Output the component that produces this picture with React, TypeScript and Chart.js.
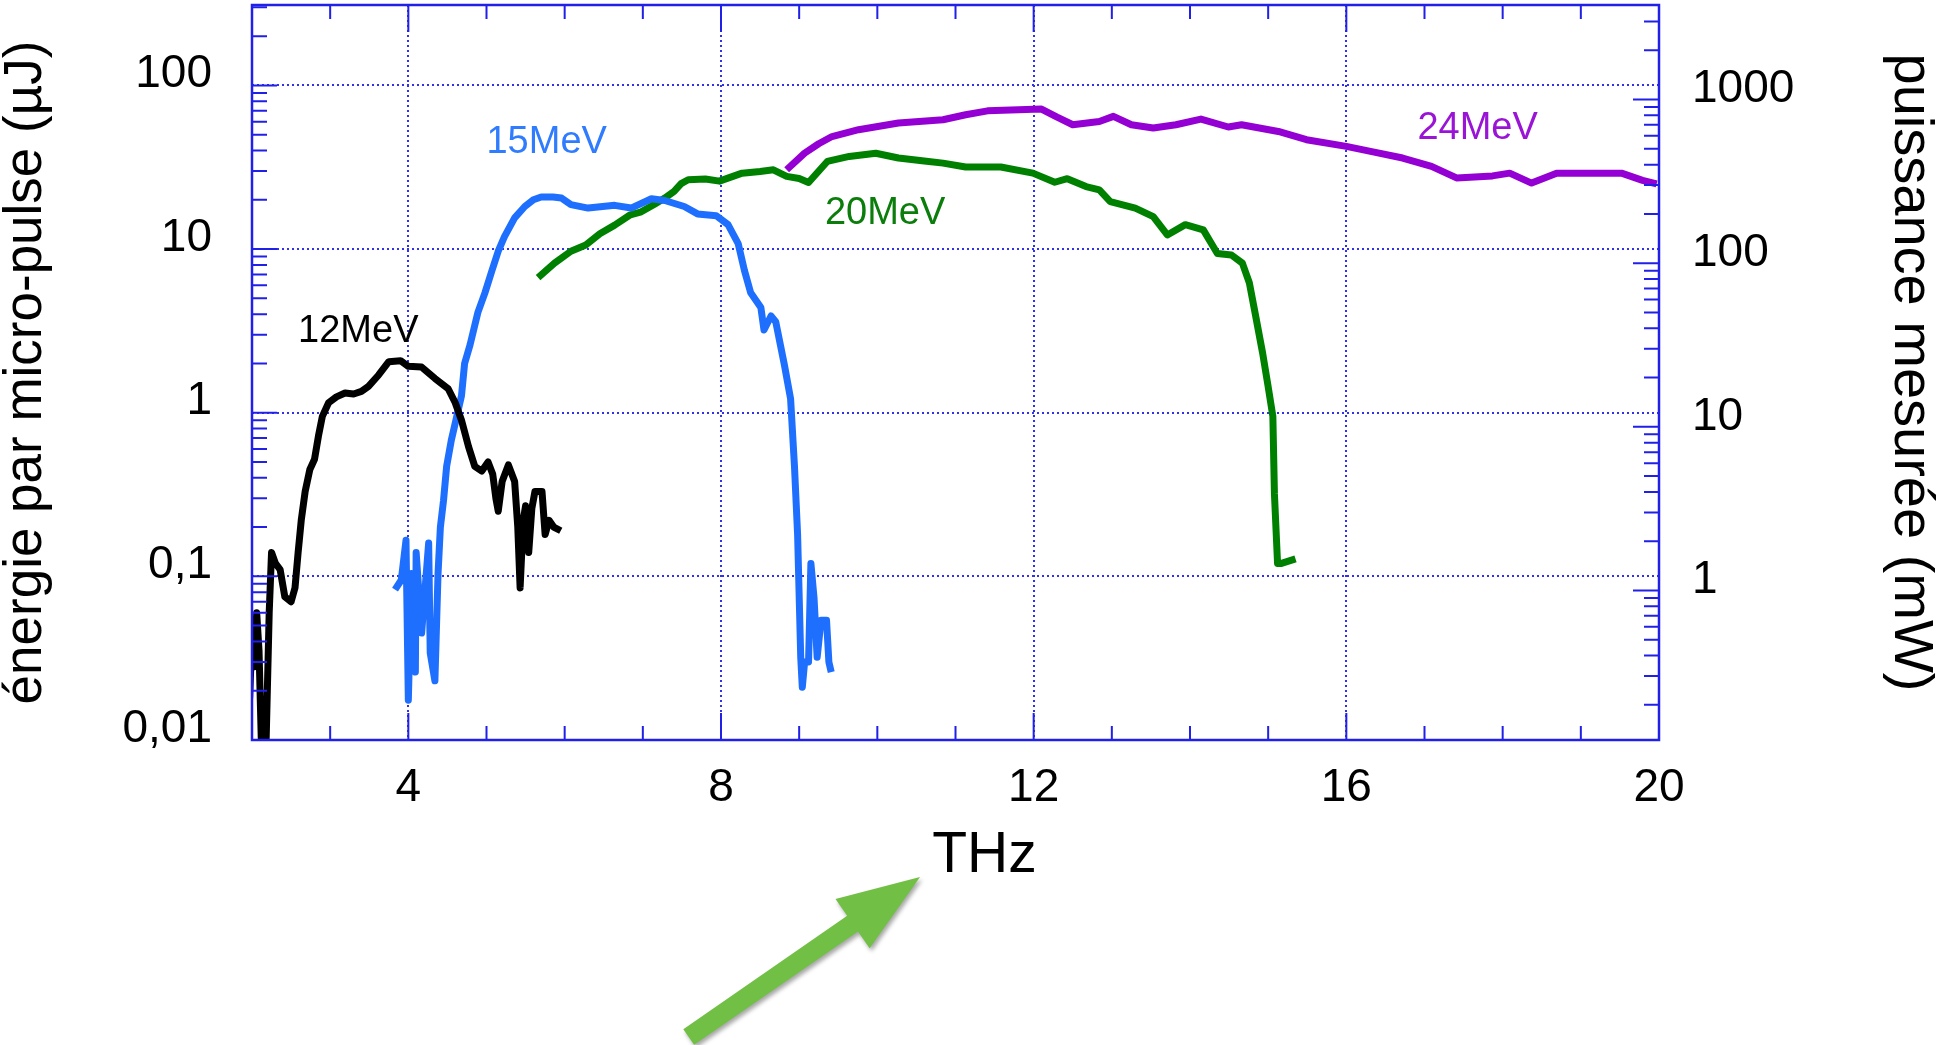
import { useEffect, useRef } from 'react';
import { Chart, registerables } from 'chart.js';

Chart.register(...registerables);

const FONT = '"Liberation Sans", Arial, Helvetica, sans-serif';
const AXIS_BLUE = '#2020e8';
const GRID_BLUE = '#3030ee';

// ---- axis ticks ----
const xTickValues = [4, 8, 12, 16, 20];
const leftTickValues = [0.01, 0.1, 1, 10, 100];
const leftTickLabels = ['0,01', '0,1', '1', '10', '100'];
const rightTickValues = [1, 10, 100, 1000];
const rightTickLabels = ['1', '10', '100', '1000'];

// ---- series (THz, µJ) ----
const mev12Freq = [1.97, 2.0, 2.03, 2.06, 2.09, 2.12, 2.18, 2.22, 2.25, 2.3, 2.36, 2.42, 2.5, 2.55, 2.59, 2.63, 2.68, 2.74, 2.8, 2.85, 2.9, 2.98, 3.08, 3.19, 3.3, 3.4, 3.49, 3.62, 3.75, 3.9, 4.0, 4.17, 4.34, 4.51, 4.6, 4.68, 4.77, 4.85, 4.94, 5.02, 5.08, 5.12, 5.15, 5.2, 5.28, 5.36, 5.4, 5.43, 5.47, 5.5, 5.54, 5.58, 5.62, 5.71, 5.75, 5.8, 5.86, 5.95];
const mev12Energy = [0.018, 0.045, 0.028, 0.06, 0.035, 0.0095, 0.0095, 0.06, 0.14, 0.12, 0.11, 0.075, 0.07, 0.085, 0.14, 0.22, 0.33, 0.45, 0.52, 0.72, 0.95, 1.15, 1.25, 1.32, 1.3, 1.35, 1.45, 1.7, 2.05, 2.08, 1.92, 1.9, 1.62, 1.4, 1.15, 0.9, 0.62, 0.47, 0.44, 0.5, 0.42, 0.3, 0.25, 0.38, 0.48, 0.38, 0.2, 0.085, 0.22, 0.27, 0.14, 0.26, 0.33, 0.33, 0.18, 0.22, 0.2, 0.19];

const mev15Freq = [3.83, 3.91, 3.97, 4.0, 4.04, 4.09, 4.1, 4.17, 4.26, 4.28, 4.34, 4.38, 4.41, 4.45, 4.49, 4.55, 4.62, 4.68, 4.72, 4.79, 4.89, 4.98, 5.07, 5.15, 5.23, 5.36, 5.49, 5.6, 5.7, 5.85, 5.96, 6.08, 6.3, 6.64, 6.85, 7.11, 7.28, 7.53, 7.7, 7.94, 8.09, 8.22, 8.3, 8.38, 8.51, 8.55, 8.64, 8.7, 8.81, 8.89, 8.94, 8.98, 9.02, 9.04, 9.07, 9.12, 9.15, 9.19, 9.23, 9.28, 9.35, 9.38, 9.41];
const mev15Energy = [0.083, 0.095, 0.166, 0.0175, 0.104, 0.026, 0.14, 0.045, 0.16, 0.034, 0.023, 0.104, 0.2, 0.29, 0.47, 0.68, 0.95, 1.27, 2.0, 2.6, 4.1, 5.4, 7.4, 9.7, 11.9, 15.5, 18.2, 20.0, 20.8, 20.8, 20.5, 18.7, 17.8, 18.5, 17.8, 20.3, 19.8, 18.2, 16.4, 16.0, 14.1, 10.8, 7.4, 5.4, 4.4, 3.2, 3.9, 3.6, 1.97, 1.22, 0.47, 0.18, 0.032, 0.021, 0.03, 0.03, 0.12, 0.074, 0.032, 0.054, 0.054, 0.03, 0.026];

const mev20Freq = [5.66, 5.87, 6.08, 6.27, 6.45, 6.64, 6.84, 6.98, 7.15, 7.28, 7.4, 7.49, 7.58, 7.8, 7.98, 8.27, 8.5, 8.67, 8.84, 9.0, 9.12, 9.36, 9.64, 9.98, 10.27, 10.6, 10.84, 11.13, 11.58, 11.99, 12.27, 12.43, 12.67, 12.84, 12.98, 13.3, 13.53, 13.71, 13.94, 14.17, 14.35, 14.53, 14.67, 14.76, 14.84, 14.93, 15.0, 15.06, 15.08, 15.12, 15.17, 15.35];
const mev20Energy = [6.7, 8.2, 9.7, 10.6, 12.4, 14.0, 16.2, 16.9, 18.8, 20.5, 22.5, 25.1, 26.5, 26.8, 26.0, 29.1, 29.8, 30.5, 27.8, 27.0, 25.5, 34.3, 36.8, 38.5, 36.0, 34.5, 33.5, 31.7, 31.7, 29.1, 25.6, 26.9, 24.1, 23.0, 19.5, 17.8, 15.8, 12.2, 14.1, 13.1, 9.4, 9.2, 8.2, 6.2, 3.9, 2.3, 1.44, 0.95, 0.32, 0.12, 0.12, 0.128];

const mev24Freq = [8.84, 9.07, 9.25, 9.42, 9.76, 10.27, 10.84, 11.13, 11.41, 12.1, 12.3, 12.5, 12.84, 13.02, 13.25, 13.53, 13.82, 14.14, 14.49, 14.66, 15.13, 15.49, 16.0, 16.31, 16.72, 17.09, 17.41, 17.87, 18.09, 18.37, 18.69, 19.52, 19.79, 19.97];
const mev24Energy = [30.5, 38.6, 44.0, 48.7, 53.6, 58.9, 61.7, 66.2, 69.9, 71.7, 64.0, 57.5, 60.2, 64.7, 57.5, 54.9, 57.5, 62.3, 55.7, 57.5, 52.3, 46.6, 42.4, 39.5, 36.0, 32.0, 27.2, 28.0, 29.1, 25.3, 29.1, 29.1, 26.3, 25.0];

const seriesNames = ['12MeV', '15MeV', '20MeV', '24MeV'];
const seriesColors = ['#000000', '#1f6fff', '#008000', '#9400d3'];
const labelColors = ['#000000', '#2f7cff', '#0a7d0a', '#9a14d6'];
const labelFreq = [3.36, 5.77, 10.1, 17.68];
const labelEnergy = [3.12, 44.6, 16.4, 54.3];

// x-axis title, placed under the axis (THz position, px below the plot frame)
const xTitleText = 'THz';
const xTitleFreq = 11.37;
const xTitleDrop = 116;

// annotation arrow (THz positions, px below the plot frame)
const arrowTipFreq = 10.546;
const arrowTipDrop = 137;
const arrowTailFreq = 7.587;
const arrowTailDrop = 297;

const zip = (xs: number[], ys: number[]) => xs.map((x, i) => ({ x, y: ys[i] }));
const seriesData = [
  zip(mev12Freq, mev12Energy),
  zip(mev15Freq, mev15Energy),
  zip(mev20Freq, mev20Energy),
  zip(mev24Freq, mev24Energy),
];

const decoPlugin = {
  id: 'deco',
  afterDatasetsDraw(chart: any) {
    const { ctx, chartArea: a, scales } = chart;
    const xs = scales.x;
    const yl = scales.y;
    const yr = scales.y2;
    ctx.save();
    // inward ticks
    ctx.strokeStyle = AXIS_BLUE;
    ctx.lineWidth = 2;
    ctx.beginPath();
    for (let v = Math.ceil(xs.min); v <= Math.floor(xs.max); v++) {
      if (v <= xs.min || v >= xs.max) continue;
      const len = xTickValues.includes(v) ? 27 : 14;
      const px = xs.getPixelForValue(v);
      ctx.moveTo(px, a.bottom);
      ctx.lineTo(px, a.bottom - len);
      ctx.moveTo(px, a.top);
      ctx.lineTo(px, a.top + len);
    }
    const logTicks = (scale: any, cb: (py: number, major: boolean) => void) => {
      const e0 = Math.floor(Math.log10(scale.min));
      const e1 = Math.ceil(Math.log10(scale.max));
      for (let e = e0; e <= e1; e++) {
        for (let m = 1; m < 10; m++) {
          const v = m * Math.pow(10, e);
          if (v <= scale.min * 1.001 || v >= scale.max * 0.999) continue;
          cb(scale.getPixelForValue(v), m === 1);
        }
      }
    };
    logTicks(yl, (py, major) => {
      ctx.moveTo(a.left, py);
      ctx.lineTo(a.left + (major ? 25 : 15), py);
    });
    logTicks(yr, (py, major) => {
      ctx.moveTo(a.right, py);
      ctx.lineTo(a.right - (major ? 26 : 15), py);
    });
    ctx.stroke();
    // frame
    ctx.lineWidth = 2.5;
    ctx.strokeRect(a.left, a.top, a.right - a.left, a.bottom - a.top);

    // series labels
    ctx.font = `38px ${FONT}`;
    ctx.textAlign = 'center';
    ctx.textBaseline = 'middle';
    seriesNames.forEach((name, i) => {
      ctx.fillStyle = labelColors[i];
      ctx.fillText(name, xs.getPixelForValue(labelFreq[i]), yl.getPixelForValue(labelEnergy[i]));
    });

    // x axis title
    ctx.fillStyle = '#000';
    ctx.font = `57px ${FONT}`;
    ctx.fillText(xTitleText, xs.getPixelForValue(xTitleFreq), a.bottom + xTitleDrop);

    // green arrow
    const tx = xs.getPixelForValue(arrowTipFreq);
    const ty = a.bottom + arrowTipDrop;
    const sx = xs.getPixelForValue(arrowTailFreq);
    const sy = a.bottom + arrowTailDrop;
    const dx = tx - sx;
    const dy = ty - sy;
    const len = Math.hypot(dx, dy);
    const ux = dx / len;
    const uy = dy / len;
    const nx = -uy;
    const ny = ux;
    const shaft = 9.5;
    const headW = 30;
    const headL = 82;
    const bx = tx - ux * headL;
    const by = ty - uy * headL;
    ctx.shadowColor = 'rgba(0,0,0,0.35)';
    ctx.shadowBlur = 4;
    ctx.shadowOffsetX = 2;
    ctx.shadowOffsetY = 3;
    ctx.fillStyle = '#71bf45';
    ctx.beginPath();
    ctx.moveTo(sx + nx * shaft, sy + ny * shaft);
    ctx.lineTo(bx + nx * shaft, by + ny * shaft);
    ctx.lineTo(bx + nx * headW, by + ny * headW);
    ctx.lineTo(tx, ty);
    ctx.lineTo(bx - nx * headW, by - ny * headW);
    ctx.lineTo(bx - nx * shaft, by - ny * shaft);
    ctx.lineTo(sx - nx * shaft, sy - ny * shaft);
    ctx.closePath();
    ctx.fill();
    ctx.restore();
  },
};

const tickFont = { family: FONT, size: 46, lineHeight: 1 };

export default function App() {
  const ref = useRef<HTMLCanvasElement>(null);
  useEffect(() => {
    document.body.style.margin = '0';
    document.body.style.overflow = 'hidden';
    const canvas = ref.current;
    if (!canvas) return;
    const chart = new Chart(canvas, {
      type: 'line',
      data: {
        datasets: seriesData.map((d, i) => ({
          label: seriesNames[i],
          data: d,
          borderColor: seriesColors[i],
          backgroundColor: seriesColors[i],
          borderWidth: 7,
          pointRadius: 0,
          tension: 0,
          borderJoinStyle: 'round' as const,
          fill: false,
        })),
      },
      options: {
        animation: false,
        responsive: false,
        devicePixelRatio: 1,
        layout: { padding: { top: 5, left: 0, right: 0, bottom: 0 } },
        plugins: { legend: { display: false }, tooltip: { enabled: false } },
        scales: {
          x: {
            type: 'linear',
            min: 2,
            max: 20,
            afterBuildTicks: (s: any) => {
              s.ticks = xTickValues.map((v) => ({ value: v }));
            },
            afterFit: (s: any) => {
              s.height = 305;
              s.paddingLeft = 0;
              s.paddingRight = 0;
            },
            grid: { color: GRID_BLUE, lineWidth: 2, drawTicks: false },
            border: { display: false, dash: [2, 3] },
            ticks: {
              font: tickFont,
              color: '#000',
              padding: 25,
              maxRotation: 0,
              autoSkip: false,
              callback: (v: any) => String(v),
            },
            title: { display: false, text: xTitleText },
          },
          y: {
            type: 'logarithmic',
            position: 'left',
            min: 0.01,
            max: 310,
            afterBuildTicks: (s: any) => {
              s.ticks = leftTickValues.map((v) => ({ value: v, major: true }));
            },
            afterFit: (s: any) => {
              s.width = 252;
              s.paddingTop = 0;
              s.paddingBottom = 0;
            },
            grid: { color: GRID_BLUE, lineWidth: 2, drawTicks: false },
            border: { display: false, dash: [2, 3] },
            ticks: {
              font: tickFont,
              color: '#000',
              padding: 40,
              labelOffset: -11,
              autoSkip: false,
              callback: (v: any) => leftTickLabels[leftTickValues.indexOf(Number(v))] ?? '',
            },
            title: {
              display: true,
              text: 'énergie par micro-pulse (µJ)',
              color: '#000',
              font: { family: FONT, size: 53, lineHeight: 1 },
              padding: { top: 0, bottom: 0 },
            },
          },
          y2: {
            type: 'logarithmic',
            position: 'right',
            min: 0.122,
            max: 3780,
            afterBuildTicks: (s: any) => {
              s.ticks = rightTickValues.map((v) => ({ value: v, major: true }));
            },
            afterFit: (s: any) => {
              s.width = 281;
              s.paddingTop = 0;
              s.paddingBottom = 0;
            },
            grid: { display: false, drawTicks: false },
            border: { display: false },
            ticks: {
              font: tickFont,
              color: '#000',
              padding: 33,
              labelOffset: -10,
              autoSkip: false,
              callback: (v: any) => rightTickLabels[rightTickValues.indexOf(Number(v))] ?? '',
            },
            title: {
              display: true,
              text: 'puissance mesurée (mW)',
              color: '#000',
              font: { family: FONT, size: 56, lineHeight: 1.04 },
              padding: { top: 0, bottom: 0 },
            },
          },
        },
      },
      plugins: [decoPlugin],
    } as any);
    return () => chart.destroy();
  }, []);
  return <canvas ref={ref} width={1940} height={1045} style={{ display: 'block' }} />;
}
